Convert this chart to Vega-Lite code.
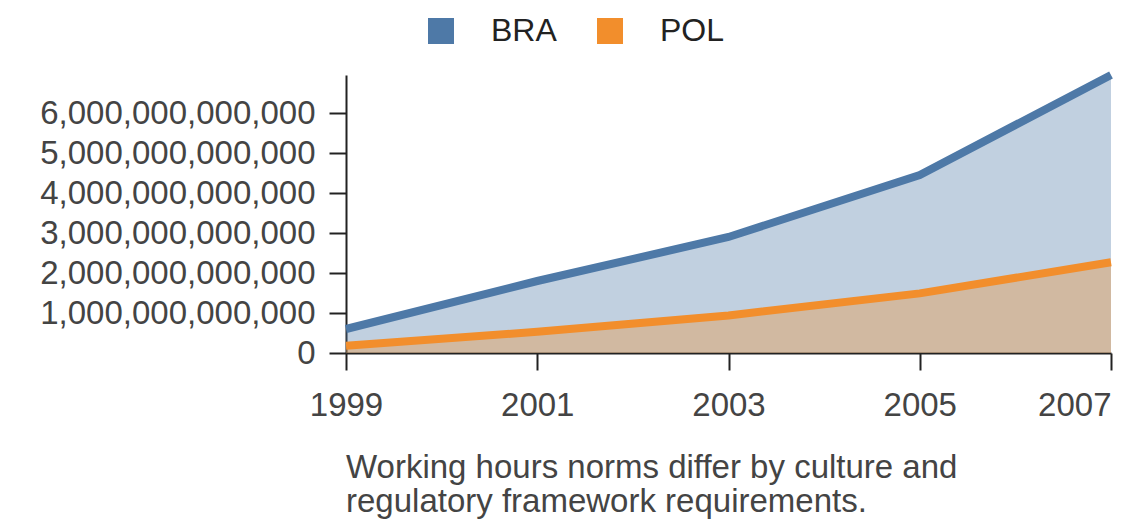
{
  "$schema": "https://vega.github.io/schema/vega-lite/v6.json",
  "width": 765,
  "height": 278,
  "padding": {"left": 39, "top": 15, "right": 10, "bottom": 10},
  "title": {
    "text": ["Working hours norms differ by culture and", "regulatory framework requirements."],
    "orient": "bottom",
    "anchor": "start",
    "frame": "group",
    "font": "Liberation Sans",
    "fontSize": 33,
    "fontWeight": "normal",
    "color": "#444",
    "lineHeight": 34,
    "offset": 30
  },
  "data": {
    "values": [
      {"year": 1999, "country": "BRA", "value": 600000000000},
      {"year": 2001, "country": "BRA", "value": 1800000000000},
      {"year": 2003, "country": "BRA", "value": 2900000000000},
      {"year": 2005, "country": "BRA", "value": 4450000000000},
      {"year": 2007, "country": "BRA", "value": 6950000000000},
      {"year": 1999, "country": "POL", "value": 180000000000},
      {"year": 2001, "country": "POL", "value": 530000000000},
      {"year": 2003, "country": "POL", "value": 940000000000},
      {"year": 2005, "country": "POL", "value": 1490000000000},
      {"year": 2007, "country": "POL", "value": 2270000000000}
    ]
  },
  "encoding": {
    "x": {
      "field": "year",
      "type": "quantitative",
      "scale": {"domain": [1999, 2007], "nice": false, "zero": false},
      "axis": {"values": [1999, 2001, 2003, 2005, 2007], "format": "d", "title": null, "grid": false, "tickSize": 17, "labelPadding": 19, "labelFlush": false, "labelAlign": {"expr": "datum.value == 2007 ? 'right' : 'center'"}}
    },
    "y": {
      "field": "value",
      "type": "quantitative",
      "stack": null,
      "scale": {"nice": false, "zero": true},
      "axis": {"values": [0, 1000000000000, 2000000000000, 3000000000000, 4000000000000, 5000000000000, 6000000000000], "format": ",.0f", "title": null, "grid": false, "tickSize": 17, "labelPadding": 14, "labelLimit": 0}
    },
    "color": {
      "field": "country",
      "type": "nominal",
      "scale": {"domain": ["BRA", "POL"], "range": ["#4e79a7", "#f28e2c"]},
      "legend": {"title": null, "orient": "none", "legendX": 79, "legendY": -60, "padding": 0, "direction": "horizontal", "symbolType": "square", "symbolSize": 676, "symbolOpacity": 1, "symbolStrokeWidth": 0, "labelFontSize": 32, "labelColor": "#222", "labelFont": "Liberation Sans", "columnPadding": 37, "labelOffset": 34}
    }
  },
  "layer": [
    {"mark": {"type": "area", "opacity": 0.35}},
    {"mark": {"type": "line", "strokeWidth": 8}}
  ],
  "config": {
    "view": {"stroke": null},
    "axis": {
      "labelFont": "Liberation Sans",
      "labelFontSize": 33,
      "labelColor": "#444",
      "domainColor": "#222",
      "domainWidth": 2,
      "tickColor": "#222",
      "tickWidth": 2
    }
  }
}
